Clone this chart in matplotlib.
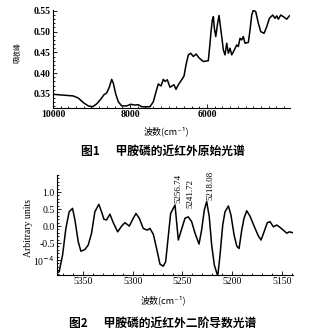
import numpy as np
import matplotlib.pyplot as plt
from matplotlib.ticker import MultipleLocator, FixedLocator

plt.rcParams['axes.unicode_minus'] = False

# 图1: 近红外原始光谱 (波数, 吸收)
wn1 = [9992, 9732, 9473, 9343, 9213, 9083, 8969, 8865, 8761, 8676, 8606, 8538,
       8476, 8434, 8372, 8304, 8216, 8086, 7982, 7871, 7785, 7697, 7481, 7395,
       7325, 7265, 7195, 7135, 7091, 7032, 6962, 6858, 6806, 6746, 6658, 6598,
       6546, 6486, 6424, 6356, 6286, 6200, 6096, 5967, 5923, 5897, 5863, 5836,
       5810, 5774, 5732, 5689, 5663, 5619, 5577, 5533, 5489, 5447, 5403, 5359,
       5292, 5230, 5188, 5144, 5100, 5058, 5014, 4928, 4884, 4840, 4798, 4736,
       4668, 4606, 4520, 4450, 4382, 4294, 4235, 4190, 4148, 4087, 4019, 3931,
       3863]
absb = [0.349, 0.347, 0.345, 0.340, 0.329, 0.321, 0.319, 0.326, 0.337, 0.348,
        0.352, 0.366, 0.385, 0.376, 0.350, 0.331, 0.321, 0.321, 0.325, 0.323,
        0.324, 0.319, 0.319, 0.331, 0.355, 0.374, 0.369, 0.385, 0.380, 0.384,
        0.366, 0.372, 0.361, 0.372, 0.384, 0.393, 0.420, 0.444, 0.448, 0.440,
        0.446, 0.436, 0.428, 0.430, 0.472, 0.500, 0.528, 0.536, 0.508, 0.488,
        0.516, 0.539, 0.520, 0.488, 0.456, 0.444, 0.472, 0.448, 0.460, 0.444,
        0.456, 0.468, 0.464, 0.484, 0.480, 0.488, 0.472, 0.474, 0.504, 0.540,
        0.552, 0.548, 0.520, 0.500, 0.496, 0.512, 0.532, 0.540, 0.532, 0.538,
        0.530, 0.540, 0.536, 0.530, 0.538]

# 图2: 二阶导数光谱
wn2 = [5376.4, 5373.8, 5370.4, 5367.1, 5363.8, 5360.4, 5358.0, 5354.7, 5352.0,
       5348.0, 5344.7, 5341.3, 5338.0, 5334.0, 5331.3, 5328.9, 5326.2, 5322.9,
       5319.5, 5315.1, 5311.1, 5307.8, 5303.4, 5299.4, 5296.7, 5293.4, 5289.4,
       5285.4, 5282.7, 5279.3, 5276.0, 5272.6, 5269.3, 5266.9, 5264.3, 5261.9,
       5257.5, 5254.2, 5247.5, 5244.2, 5240.8, 5237.4, 5233.4, 5230.8, 5228.1,
       5225.7, 5223.1, 5220.7, 5218.0, 5214.6, 5212.3, 5209.6, 5207.3, 5203.9,
       5201.3, 5198.2, 5195.5, 5193.2, 5190.5, 5188.2, 5185.5, 5182.2, 5177.1,
       5173.8, 5171.1, 5168.1, 5164.8, 5162.1, 5158.8, 5155.3, 5152.0, 5148.7,
       5145.3, 5142.7, 5138.6]
d2 = [-1.39, -1.34, -0.85, -0.07, 0.42, 0.52, 0.18, -0.46, -0.74, -0.69, -0.56,
      -0.21, 0.42, 0.64, 0.42, 0.20, 0.18, 0.35, 0.10, -0.17, 0.00, 0.10, 0.00,
      0.23, 0.37, 0.23, -0.07, -0.12, -0.07, -0.24, -0.66, -1.12, -1.18, -1.05,
      -0.31, 0.37, 0.62, -0.41, 0.23, 0.27, 0.13, -0.21, -0.53, -0.12, 0.47,
      0.72, 0.27, -0.56, -1.15, -1.47, -0.85, 0.03, 0.42, 0.59, 0.32, -0.26,
      -0.59, -0.66, -0.12, 0.23, 0.45, 0.29, -0.07, -0.29, -0.41, -0.17, 0.10,
      0.13, -0.02, 0.03, -0.04, -0.12, -0.21, -0.17, -0.20]

peak_labels = ['5256.74', '5241.72', '5218.08']
peak_pos = [(5254.5, 0.68), (5242.5, 0.53), (5222.4, 0.76)]

cjk = ['Noto Sans CJK SC', 'DejaVu Sans']
serif = 'Liberation Serif'

fig = plt.figure(figsize=(3.23, 3.35), dpi=100)

ax1 = fig.add_axes([0.164, 0.678, 0.734, 0.2925])
ax1.plot(wn1, absb, color='black', lw=1.1)
ax1.set_xlim(10000, 3845)
ax1.set_ylim(0.3163, 0.5524)
ax1.xaxis.set_major_locator(FixedLocator([10000, 8000, 6000]))
ax1.xaxis.set_minor_locator(MultipleLocator(200))
ax1.yaxis.set_major_locator(MultipleLocator(0.05))
ax1.yaxis.set_minor_locator(MultipleLocator(0.01))

ax2 = fig.add_axes([0.1765, 0.179, 0.7307, 0.2985])
ax2.plot(wn2, d2, color='black', lw=1.1)
ax2.set_xlim(5376, 5139)
ax2.set_ylim(-1.44, 1.5)
ax2.xaxis.set_major_locator(FixedLocator([5350, 5300, 5250, 5200, 5150]))
ax2.xaxis.set_minor_locator(MultipleLocator(10))
ax2.yaxis.set_major_locator(FixedLocator([-1.0, -0.5, 0.0, 0.5, 1.0]))
ax2.yaxis.set_minor_locator(MultipleLocator(0.1))
ax2.set_yticklabels(['10$^{-4}$', '-0.5', '0.0', '0.5', '1.0'])

for lab, (x, y) in zip(peak_labels, peak_pos):
    ax2.text(x, y, lab, rotation=90, ha='center', va='bottom',
             fontsize=6.5, family=serif)

for ax in (ax1, ax2):
    ax.spines['top'].set_visible(False)
    ax.spines['right'].set_visible(False)
    ax.tick_params(which='both', direction='in', width=0.6)
    ax.tick_params(which='major', length=3, pad=1.5)
    ax.tick_params(which='minor', length=1.5)
    for lab in ax.get_xticklabels() + ax.get_yticklabels():
        lab.set_family(serif)
        lab.set_fontsize(7)

for lab in ax1.get_xticklabels() + ax1.get_yticklabels():
    lab.set_fontweight('bold')

fig.text(0.053, 0.842, '吸收峰', rotation=90, ha='center', va='center',
         fontsize=5, family=cjk)
fig.text(0.514, 0.609, '波数(cm⁻¹)', ha='center', va='center',
         fontsize=6.5, family=cjk)
fig.text(0.505, 0.549, '图1      甲胺磷的近红外原始光谱', ha='center', va='center',
         fontsize=8.5, family=cjk, fontweight='bold')
fig.text(0.087, 0.319, 'Arbitrary units', rotation=90, ha='center', va='center',
         fontsize=7, family=serif)
fig.text(0.505, 0.104, '波数(cm⁻¹)', ha='center', va='center',
         fontsize=6.5, family=cjk)
fig.text(0.505, 0.036, '图2      甲胺磷的近红外二阶导数光谱', ha='center', va='center',
         fontsize=8.5, family=cjk, fontweight='bold')

fig.savefig('out.png', dpi=100)
